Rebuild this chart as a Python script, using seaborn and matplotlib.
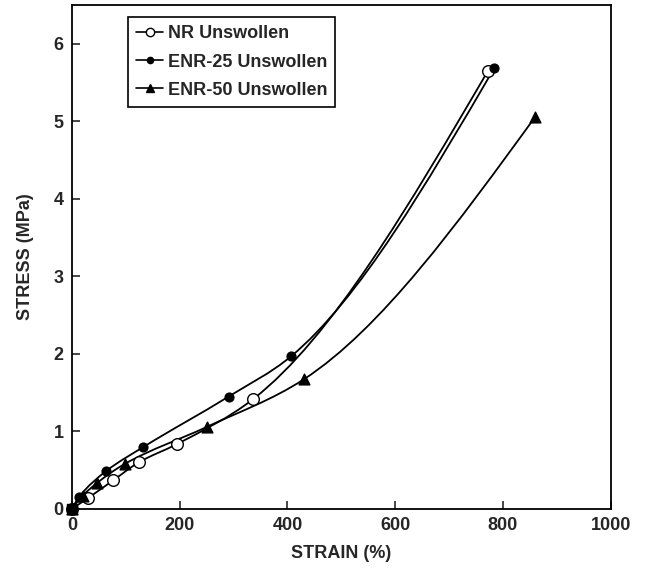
import numpy as np
import pandas as pd
import matplotlib
matplotlib.use("Agg")
import matplotlib.pyplot as plt
from matplotlib.path import Path
from matplotlib.patches import PathPatch
from matplotlib.lines import Line2D
import seaborn as sns

# Stress-strain data for the unswollen rubbers
nr_strain = [0, 30, 77, 124, 196, 337, 772]
nr_stress = [0, 0.14, 0.37, 0.60, 0.84, 1.42, 5.65]

enr25_strain = [0, 14, 64, 133, 291, 407, 784]
enr25_stress = [0, 0.16, 0.49, 0.80, 1.45, 1.97, 5.69]

enr50_strain = [0, 20, 46, 98, 251, 430, 860]
enr50_stress = [0, 0.17, 0.33, 0.58, 1.06, 1.67, 5.06]

series_names = ["NR Unswollen", "ENR-25 Unswollen", "ENR-50 Unswollen"]

sns.set_style("ticks")
plt.rcParams["font.family"] = ["Liberation Sans", "DejaVu Sans"]

fig = plt.figure(figsize=(6.47, 5.68), dpi=100)
ax = fig.add_axes([0.111, 0.104, 0.833, 0.887])


def pchip_slopes(x, y):
    x = np.asarray(x, float)
    y = np.asarray(y, float)
    h = np.diff(x)
    d = np.diff(y) / h
    m = np.zeros_like(y)
    for k in range(1, len(x) - 1):
        if d[k - 1] * d[k] <= 0:
            m[k] = 0
        else:
            w1 = 2 * h[k] + h[k - 1]
            w2 = h[k] + 2 * h[k - 1]
            m[k] = (w1 + w2) / (w1 / d[k - 1] + w2 / d[k])
    m[0] = d[0]
    m[-1] = d[-1] + (d[-1] - m[-2]) * 0.5
    return m


def smooth_curve(ax, x, y, **kw):
    """Draw a smooth Hermite curve through the points as Bezier segments."""
    m = pchip_slopes(x, y)
    verts = [(x[0], y[0])]
    codes = [Path.MOVETO]
    for k in range(len(x) - 1):
        h = x[k + 1] - x[k]
        verts += [(x[k] + h / 3, y[k] + m[k] * h / 3),
                  (x[k + 1] - h / 3, y[k + 1] - m[k + 1] * h / 3),
                  (x[k + 1], y[k + 1])]
        codes += [Path.CURVE4] * 3
    ax.add_patch(PathPatch(Path(verts, codes), fill=False,
                           transform=ax.transData, **kw))


df = pd.concat([
    pd.DataFrame({"strain": nr_strain, "stress": nr_stress, "series": series_names[0]}),
    pd.DataFrame({"strain": enr25_strain, "stress": enr25_stress, "series": series_names[1]}),
    pd.DataFrame({"strain": enr50_strain, "stress": enr50_stress, "series": series_names[2]}),
])

for xs, ys in [(nr_strain, nr_stress), (enr25_strain, enr25_stress), (enr50_strain, enr50_stress)]:
    smooth_curve(ax, xs, ys, edgecolor="black", linewidth=1.3, zorder=2)

marker_style = {
    series_names[0]: dict(marker="o", facecolor="white", s=70),
    series_names[1]: dict(marker="o", facecolor="black", s=40),
    series_names[2]: dict(marker="^", facecolor="black", s=60),
}
for name in series_names:
    sub = df[df["series"] == name]
    st = marker_style[name]
    sns.scatterplot(data=sub, x="strain", y="stress", ax=ax, marker=st["marker"],
                    s=st["s"], color=st["facecolor"], edgecolor="black",
                    linewidth=1.0, zorder=3, legend=False, clip_on=False)

# overlapping start points merge into one solid blob at the origin
ax.scatter([nr_strain[0]], [nr_stress[0]], s=55, color="black", marker="s",
           zorder=4, clip_on=False)

ax.set_xlim(0, 1000)
ax.set_ylim(0, 6.5)
ax.set_xticks([0, 200, 400, 600, 800, 1000])
ax.set_yticks([0, 1, 2, 3, 4, 5, 6])
ax.tick_params(direction="in", length=6, width=1.2, labelsize=13, pad=6,
               top=False, right=False)
for lab in ax.get_xticklabels() + ax.get_yticklabels():
    lab.set_fontweight("bold")
for sp in ax.spines.values():
    sp.set_visible(True)
    sp.set_linewidth(1.3)
    sp.set_color("black")

ax.set_xlabel("STRAIN (%)", fontsize=13, fontweight="bold", labelpad=8)
ax.set_ylabel("STRESS (MPa)", fontsize=13, fontweight="bold", labelpad=14)

handles = [
    Line2D([], [], color="black", lw=1.2, marker="o", markerfacecolor="white",
           markeredgecolor="black", markersize=6),
    Line2D([], [], color="black", lw=1.2, marker="o", markerfacecolor="black",
           markersize=4.5),
    Line2D([], [], color="black", lw=1.2, marker="^", markerfacecolor="black",
           markersize=6),
]
leg = ax.legend(handles, series_names, loc="upper left", bbox_to_anchor=(0.104, 0.976),
                frameon=True, fancybox=False, edgecolor="black", framealpha=1,
                prop={"size": 13, "weight": "bold"}, handlelength=1.5,
                handletextpad=0.25, borderpad=0.45, labelspacing=0.62,
                borderaxespad=0.0)
leg.get_frame().set_linewidth(1.2)

fig.savefig("out.png", dpi=100)
